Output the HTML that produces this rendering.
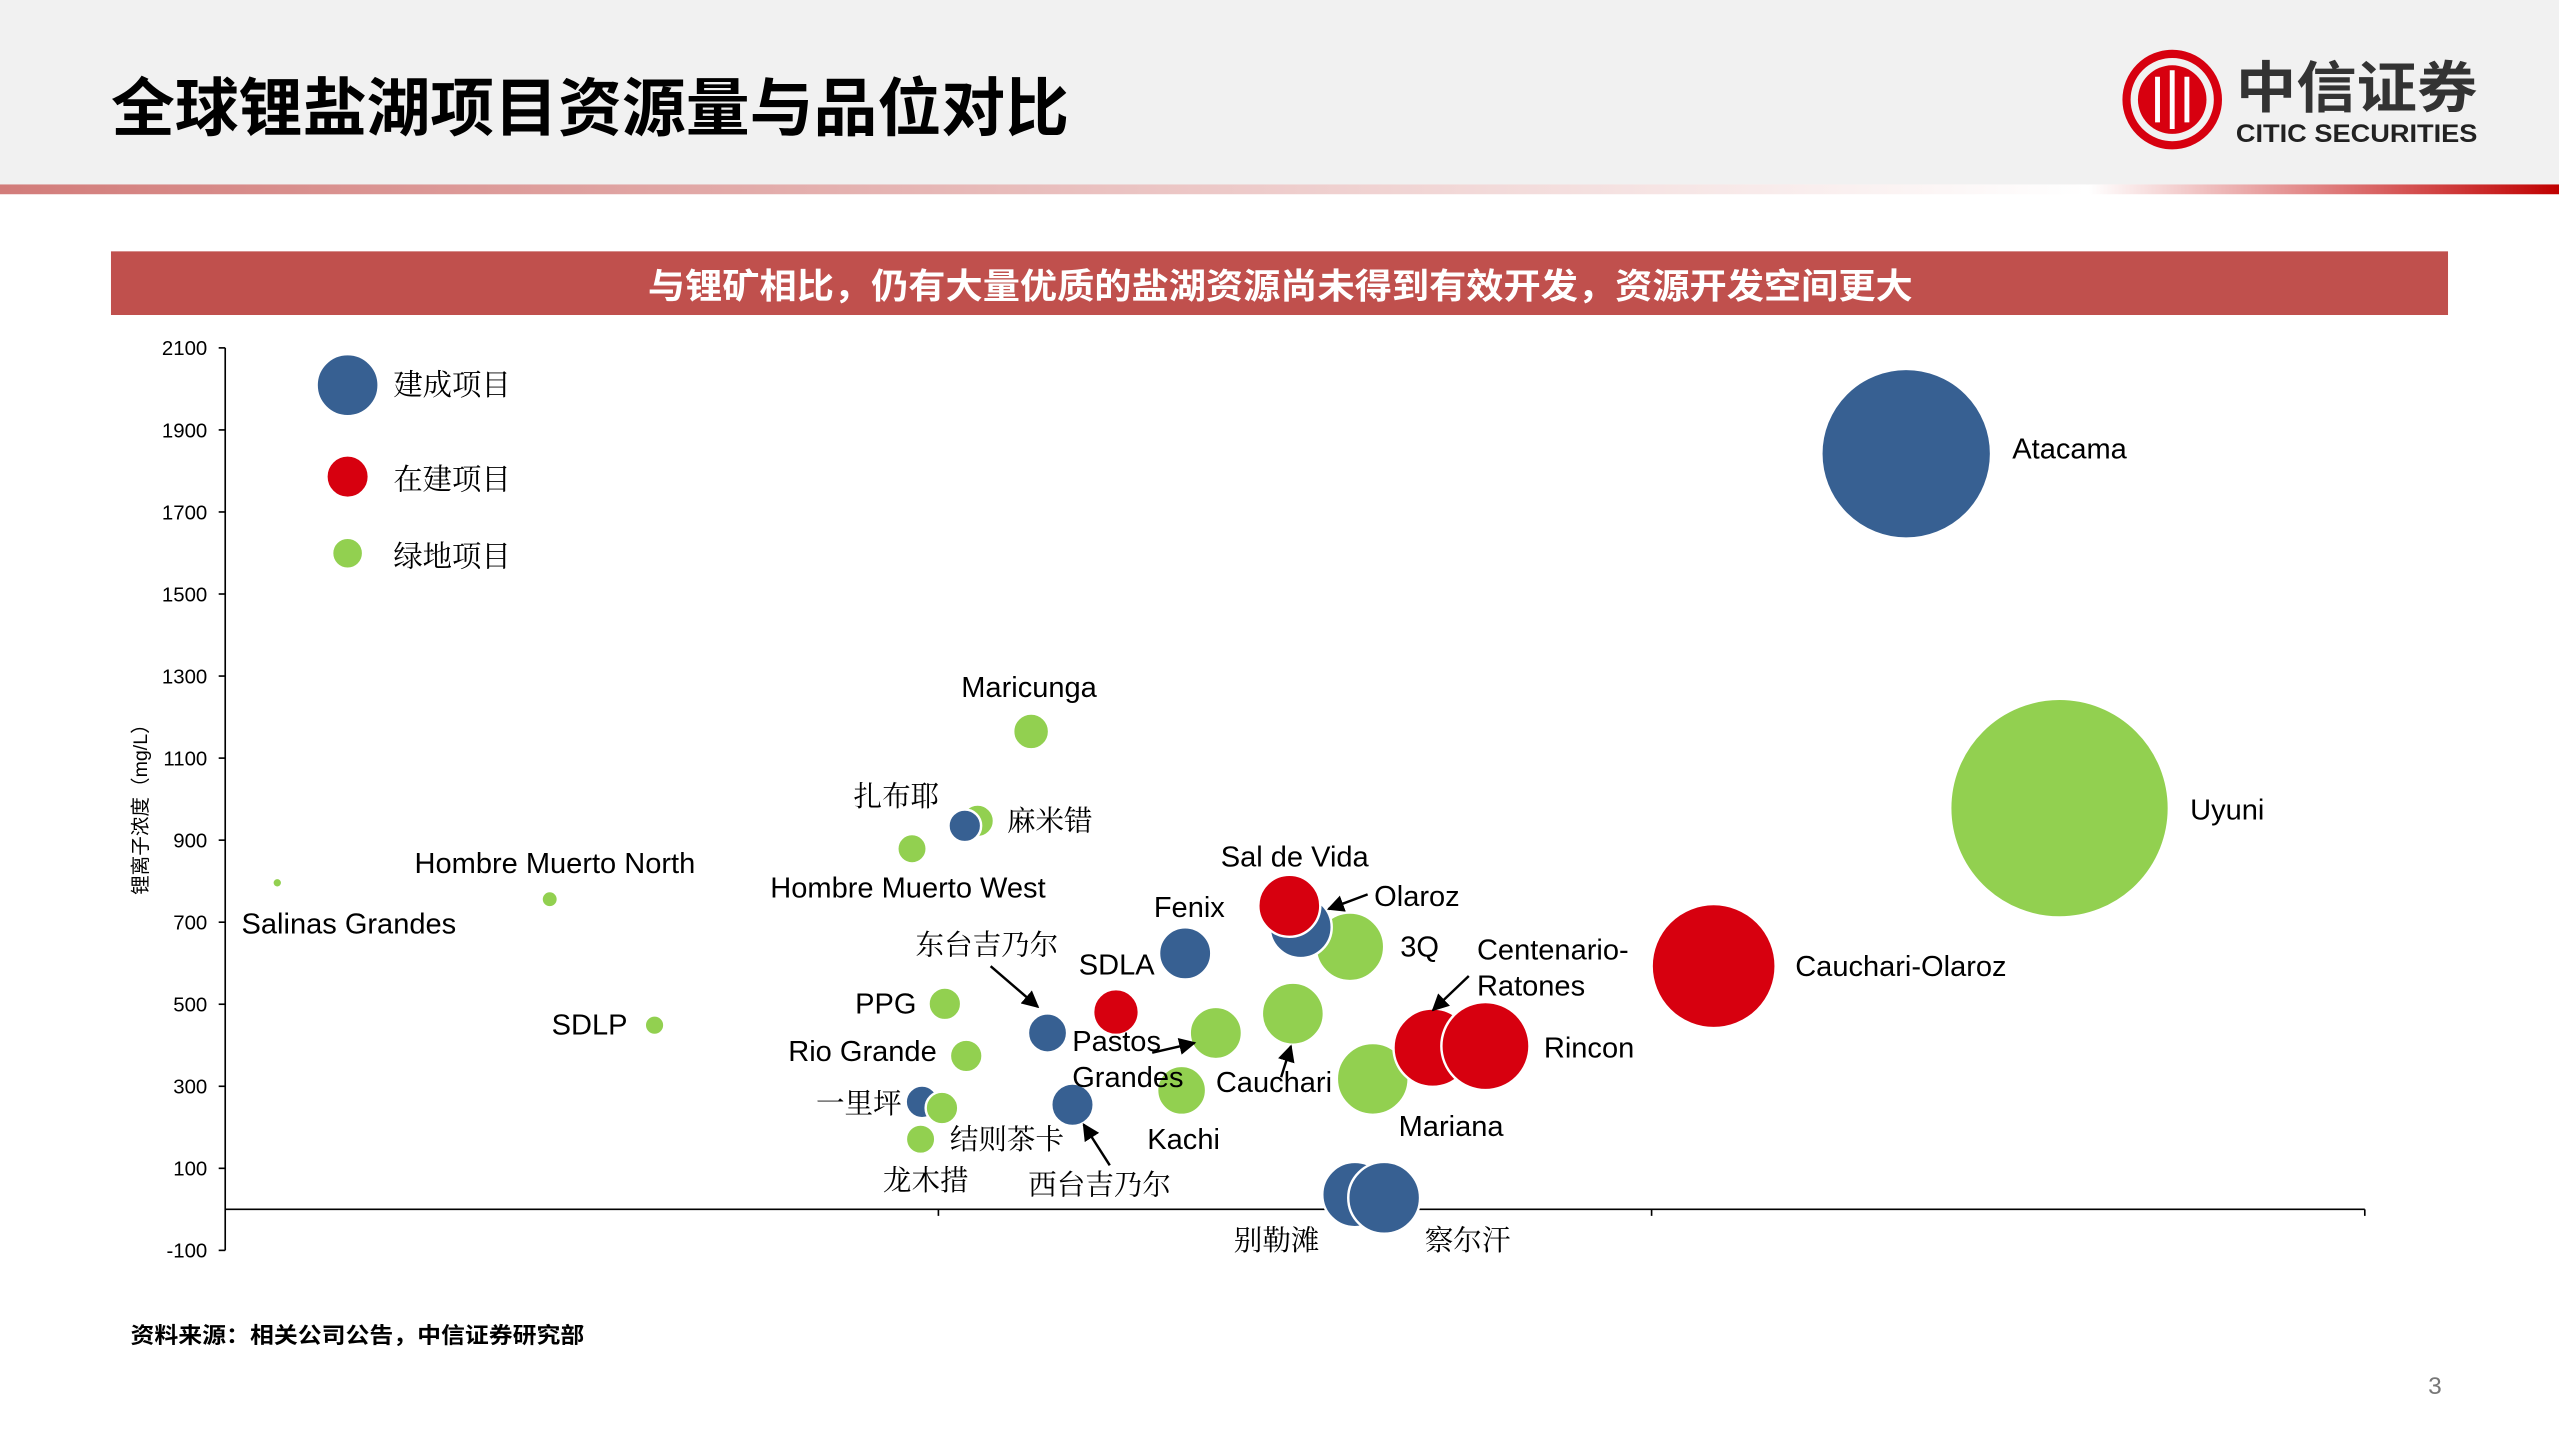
<!DOCTYPE html>
<html><head><meta charset="utf-8">
<style>
html,body{margin:0;padding:0;background:#fff;}
svg{display:block;}
.en{font-family:"Liberation Sans","Noto Sans CJK SC",sans-serif;}
.cn{font-family:"Liberation Serif","Noto Serif CJK SC",serif;}
.cs{font-family:"Liberation Sans","Noto Sans CJK SC",sans-serif;}
</style></head>
<body>
<svg id="root" width="2559" height="1439" viewBox="0 0 1568 881.7" xmlns="http://www.w3.org/2000/svg">
<defs>
<linearGradient id="gl" x1="0" x2="1"><stop offset="0" stop-color="#d27c7a"/><stop offset="1" stop-color="#ffffff"/></linearGradient>
<linearGradient id="gr" x1="0" x2="1"><stop offset="0" stop-color="#ffffff"/><stop offset="1" stop-color="#c00000"/></linearGradient>
<marker id="ah" viewBox="0 0 10 10" refX="9" refY="5" markerWidth="7" markerHeight="7" orient="auto"><path d="M0,0L10,5L0,10z" fill="#000"/></marker>
</defs>
<rect x="0" y="0" width="1568" height="113" fill="#f1f1f1"/>
<rect x="0" y="113" width="1278" height="6" fill="url(#gl)"/>
<rect x="1280" y="113" width="288" height="6" fill="url(#gr)"/>
<text x="68" y="80" class="cs" font-size="39" font-weight="bold" fill="#000" textLength="587" lengthAdjust="spacingAndGlyphs">全球锂盐湖项目资源量与品位对比</text>
<g>
<circle cx="1331" cy="61" r="28" fill="none" stroke="#d7000f" stroke-width="5"/>
<circle cx="1331" cy="61" r="21" fill="#d7000f"/>
<path d="M1322,47v28M1331,43v36M1340,47v28" stroke="#fff" stroke-width="3"/>
<text x="1370" y="66" class="cs" font-size="34" font-weight="bold" fill="#333" textLength="148" lengthAdjust="spacingAndGlyphs">中信证券</text>
<text x="1370" y="87" class="cs" font-size="15.5" font-weight="bold" fill="#222" textLength="148" lengthAdjust="spacingAndGlyphs">CITIC SECURITIES</text>
</g>
<rect x="68" y="154" width="1432" height="39" fill="#c0504d"/>
<text x="397" y="183" class="cs" font-size="21.5" font-weight="bold" fill="#fff" textLength="775" lengthAdjust="spacingAndGlyphs">与锂矿相比，仍有大量优质的盐湖资源尚未得到有效开发，资源开发空间更大</text>

<g id="axes"></g>
<g id="bubbles"></g>
<g id="labels"></g>

<text transform="translate(90,493) rotate(-90)" text-anchor="middle" class="cs" font-size="12" fill="#000">锂离子浓度（mg/L）</text>

<g>
<circle cx="213" cy="236" r="19" fill="#376092" stroke="#fff" stroke-width="1.5"/>
<text x="241" y="242" class="cn" font-size="18">建成项目</text>
<circle cx="213" cy="292" r="13" fill="#d7000f" stroke="#fff" stroke-width="1.5"/>
<text x="241" y="300" class="cn" font-size="18">在建项目</text>
<circle cx="213" cy="339" r="9.5" fill="#92d050" stroke="#fff" stroke-width="1.5"/>
<text x="241" y="347" class="cn" font-size="18">绿地项目</text>
</g>

<text x="80" y="823" class="cs" font-size="13.5" font-weight="bold" fill="#000" textLength="278" lengthAdjust="spacingAndGlyphs">资料来源：相关公司公告，中信证券研究部</text>
<text x="1492" y="854" text-anchor="middle" class="en" font-size="15" fill="#777">3</text>
</svg>
<script>
const names = ["Atacama","Uyuni","Cauchari-Olaroz","Mariana-G","Mariana-R","Rincon","3Q","Olaroz","Sal de Vida","Fenix","SDLA","Pastos Grandes","Cauchari","Kachi","西台吉乃尔","东台吉乃尔","别勒滩","察尔汗","Maricunga","麻米错","扎布耶","Hombre Muerto West","PPG","Rio Grande","一里坪","结则茶卡","龙木措","SDLP","Hombre Muerto North","Salinas Grandes"];
const xVals = [2.357,2.572,2.087,1.609,1.693,1.767,1.577,1.508,1.492,1.346,1.249,1.389,1.497,1.341,1.188,1.153,1.584,1.625,1.130,1.055,1.037,0.963,1.009,1.039,0.977,1.005,0.975,0.602,0.455,0.073];
const yVals = [1842,978,593,318,394,398,640,688,740,624,481,430,477,290,255,430,36,28,1165,947,935,879,501,374,262,247,171,449,756,796];
const sizes = [52,67,38,22,24,27,21,19,19,16,14,16,19,15,13,12,20,22,11,10,10,9,10,10,10,10,9,6,5,3];
const types = ["b","g","r","g","r","r","g","b","r","b","r","g","g","g","b","b","b","b","g","g","b","g","g","g","b","g","g","g","g","g"];
const yTicks = [-100,100,300,500,700,900,1100,1300,1500,1700,1900,2100];
const xTicks = [1,2];
const colors = {b:"#376092", r:"#d7000f", g:"#92d050"};
const NS = "http://www.w3.org/2000/svg";
const X0 = 138, XS = 437;
function xPos(v){ return X0 + v*XS; }
function yPos(v){ return 741 - v*0.25136; }
function mk(tag, attrs, parent){ const e=document.createElementNS(NS,tag); for(const k in attrs) e.setAttribute(k,attrs[k]); parent.appendChild(e); return e; }
const axes = document.getElementById('axes');
let l = mk('line',{x1:X0,y1:yPos(2100),x2:X0,y2:yPos(-100),stroke:'#000','stroke-width':1},axes);


l = mk('line',{x1:X0,y1:yPos(0),x2:xPos(3),y2:yPos(0),stroke:'#000','stroke-width':1},axes);


yTicks.forEach(t=>{
  const tk = mk('line',{x1:X0-4,y1:yPos(t),x2:X0,y2:yPos(t),stroke:'#000'},axes);
  
  
  const tx = mk('text',{x:X0-11,y:yPos(t)+4.5,'text-anchor':'end','font-size':12.5,class:'en'},axes);
  tx.textContent = t;
  
  
});
xTicks.concat([3]).forEach(t=>{
  const tk = mk('line',{x1:xPos(t),y1:yPos(0),x2:xPos(t),y2:yPos(0)+4,stroke:'#000'},axes);
  
  
});
const bg = document.getElementById('bubbles');
names.forEach((n,i)=>{
  const c = mk('circle',{cx:xPos(xVals[i]),cy:yPos(yVals[i]),r:sizes[i],fill:colors[types[i]],stroke:'#fff','stroke-width':1.5},bg);
  
  
});
const lbls = [
 ["Atacama",1233,281,"en"],["Uyuni",1342,502,"en"],["Cauchari-Olaroz",1100,598,"en"],["Rincon",946,648,"en"],
 ["Mariana",857,696,"en"],["Centenario-",905,588,"en"],["Ratones",905,610,"en"],["3Q",858,586,"en"],
 ["Olaroz",842,555,"en"],["Sal de Vida",748,531,"en"],["Fenix",707,562,"en"],["SDLA",661,597,"en"],
 ["Pastos",657,644,"en"],["Grandes",657,666,"en"],["Cauchari",745,669,"en"],["Kachi",703,704,"en"],
 ["西台吉乃尔",630,732,"cn"],["别勒滩",756,766,"cn"],["察尔汗",873,766,"cn"],["龙木措",541,729,"cn"],
 ["结则茶卡",582,704,"cn"],["一里坪",500,682,"cn"],["Rio Grande",483,650,"en"],["PPG",524,621,"en"],
 ["东台吉乃尔",561,585,"cn"],["Hombre Muerto West",472,550,"en"],["扎布耶",523,494,"cn"],["麻米错",617,509,"cn"],
 ["Maricunga",589,427,"en"],["Hombre Muerto North",254,535,"en"],["Salinas Grandes",148,572,"en"],["SDLP",338,634,"en"]
];
const lg = document.getElementById('labels');
lbls.forEach(a=>{
  const t = mk('text',{x:a[1],y:a[2],class:a[3],'font-size':a[3]=='en'?17.8:17.5,fill:'#000'},lg);
  t.textContent = a[0];
  
  
});
const arrows = [[607,592,636,617],[706,645,732,639],[838,548,814,557],[900,598,878,619],[785,660,791,641],[680,714,664,689]];
arrows.forEach(a=>{
  const p = mk('line',{x1:a[0],y1:a[1],x2:a[2],y2:a[3],stroke:'#000','stroke-width':1.5,'marker-end':'url(#ah)'},lg);
  
  
});
</script>
</body></html>
